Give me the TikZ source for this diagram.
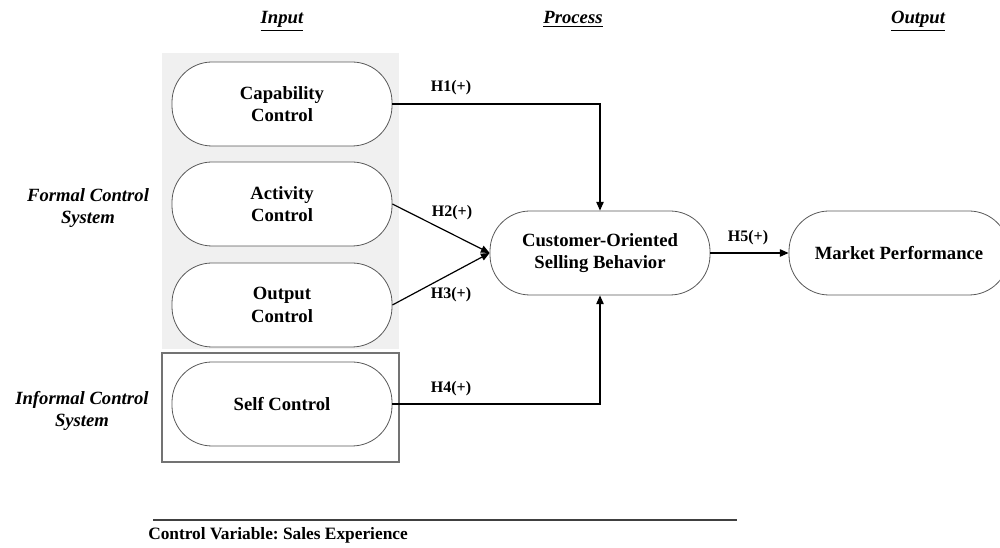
\documentclass[tikz,border=0pt]{standalone}
\usepackage{fontspec}
\setmainfont{Liberation Serif}
\usetikzlibrary{arrows.meta}
\frenchspacing

\begin{document}
\begin{tikzpicture}[x=0.75pt, y=-0.75pt,
	pill/.style={draw=black!65, line width=0.6pt, fill=white, rounded corners=30pt, minimum width=165pt, minimum height=63pt, inner sep=2pt, align=center, font=\fontsize{14}{17}\selectfont\bfseries},
	head/.style={align=center, font=\fontsize{14}{17}\selectfont\bfseries\itshape},
	hyp/.style={font=\fontsize{12}{14}\selectfont\bfseries},
	link/.style={line width=0.9pt, -{Triangle[length=6.5pt,width=5.5pt]}}]
	\useasboundingbox (0,0) rectangle (1000,548);
	\fill[black!6] (162,53) rectangle (399,349);
	\draw[black!55, line width=0.8pt] (162,353) rectangle (399,462);
	\node[head, anchor=base] (tin) at (282,24) {\underline{Input}};
	\node[head, anchor=base] (tproc) at (573,24) {\underline{Process}};
	\node[head, anchor=base] (tout) at (918,24) {\underline{Output}};
	\node[head] (formal) at (88,208) {Formal Control\\System};
	\node[head] (informal) at (82,411) {Informal Control\\System};
	\node[pill] (cap) at (282,104) {Capability\\Control};
	\node[pill] (act) at (282,204) {Activity\\Control};
	\node[pill] (outc) at (282,305) {Output\\Control};
	\node[pill] (self) at (282,404) {Self Control};
	\node[pill] (cob) at (600,253) {Customer-Oriented\\Selling Behavior};
	\node[pill] (mkt) at (899,253) {Market Performance};
	\draw[link] (cap.east) -| (cob.north);
	\draw[link] (act.east) -- (cob.west);
	\draw[link] (outc.east) -- (cob.west);
	\draw[link] (self.east) -| (cob.south);
	\draw[link] (cob.east) -- (mkt.west);
	\node[hyp] (h1) at (451,88) {H1(+)};
	\node[hyp] (h2) at (452,213) {H2(+)};
	\node[hyp] (h3) at (451,295) {H3(+)};
	\node[hyp] (h4) at (451,389) {H4(+)};
	\node[hyp] (h5) at (748,238) {H5(+)};
	\draw[black!75, line width=1.1pt] (153,520) -- (737,520);
	\node[anchor=west, inner sep=0pt, font=\fontsize{13}{15}\selectfont\bfseries] (cv) at (148,535) {Control Variable: Sales Experience};
\end{tikzpicture}
\end{document}
